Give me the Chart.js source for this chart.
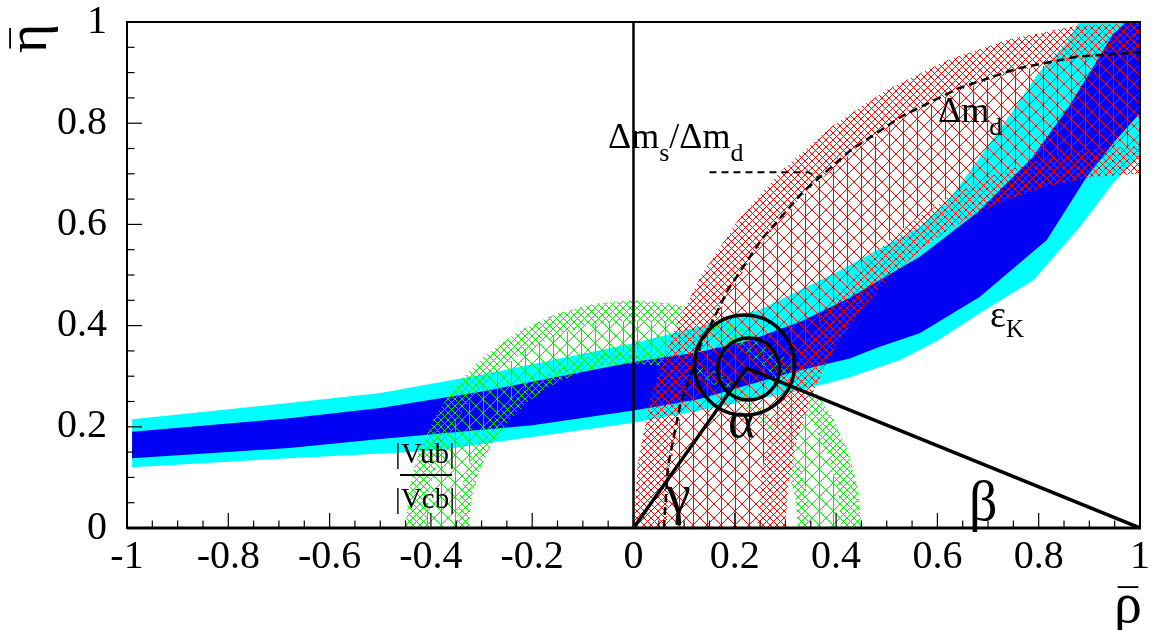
<!DOCTYPE html>
<html><head><meta charset="utf-8">
<script src="https://cdn.jsdelivr.net/npm/chart.js@4.4.1/dist/chart.umd.min.js"></script>
<style>html,body{margin:0;padding:0;background:#fff;overflow:hidden}canvas{display:block}</style>
</head><body>
<canvas id="c" width="1165" height="630"></canvas>
<script>
// ---- tick labels ----
const xTickLabels = ['-1','-0.8','-0.6','-0.4','-0.2','0','0.2','0.4','0.6','0.8','1'];
const yTickLabels = ['0','0.2','0.4','0.6','0.8','1'];

// ---- epsilon_K bands (rho, eta) ----
const cyanTop = [[-0.99,0.215],[-0.68,0.247],[-0.5,0.267],[-0.3,0.303],[0,0.365],[0.13,0.398],[0.25,0.432],[0.39,0.5],[0.486,0.552],[0.565,0.595],[0.62,0.645],[0.684,0.733],[0.75,0.826],[0.8,0.9],[0.855,0.958],[0.88,1.0],[1.0,1.0]];
const cyanBot = [[-0.99,0.12],[-0.68,0.138],[-0.4,0.152],[-0.2,0.18],[0,0.208],[0.13,0.232],[0.32,0.27],[0.427,0.298],[0.526,0.332],[0.6,0.37],[0.684,0.425],[0.79,0.49],[0.881,0.595],[0.947,0.682],[1.0,0.735]];
const blueTop = [[-0.99,0.19],[-0.68,0.217],[-0.5,0.237],[-0.3,0.27],[0,0.328],[0.13,0.348],[0.227,0.37],[0.33,0.408],[0.427,0.455],[0.486,0.49],[0.565,0.536],[0.684,0.628],[0.783,0.727],[0.855,0.826],[0.907,0.91],[0.947,0.977],[0.974,1.0],[1.0,1.0]];
const blueBot = [[-0.99,0.138],[-0.68,0.158],[-0.5,0.176],[-0.2,0.203],[0,0.232],[0.13,0.255],[0.32,0.31],[0.427,0.335],[0.486,0.358],[0.565,0.385],[0.684,0.457],[0.816,0.569],[0.895,0.694],[0.947,0.761],[1.0,0.82]];

// ---- |Vub/Vcb| region boundaries (around rho=0) ----
const vubOuter = [[-0.45,0],[-0.4432,0.0781],[-0.4229,0.1539],[-0.3897,0.225],[-0.3447,0.2893],[-0.2893,0.3447],[-0.225,0.3897],[-0.1539,0.4229],[-0.0781,0.4432],[0,0.45],[0.0781,0.4432],[0.1539,0.4229],[0.225,0.3897],[0.2893,0.3447],[0.3447,0.2893],[0.3897,0.225],[0.4229,0.1539],[0.4432,0.0781],[0.45,0]];
const vubMidOuter = [[-0.45,0],[-0.41,0],[-0.4038,0.0712],[-0.3853,0.1402],[-0.3551,0.205],[-0.3141,0.2635],[-0.2635,0.3141],[-0.205,0.3551],[-0.1402,0.3853],[-0.0712,0.4038],[0,0.41],[0.0712,0.4038],[0.1402,0.3853],[0.205,0.3551],[0.2635,0.3141],[0.3141,0.2635],[0.3551,0.205],[0.3853,0.1402],[0.4038,0.0712],[0.41,0],[0.45,0]];
const vubMidInner = [[-0.45,0],[-0.35,0],[-0.3447,0.0608],[-0.3289,0.1197],[-0.3031,0.175],[-0.2681,0.225],[-0.225,0.2681],[-0.175,0.3031],[-0.1197,0.3289],[-0.0608,0.3447],[0,0.35],[0.0608,0.3447],[0.1197,0.3289],[0.175,0.3031],[0.225,0.2681],[0.2681,0.225],[0.3031,0.175],[0.3289,0.1197],[0.3447,0.0608],[0.35,0],[0.45,0]];
const vubInner = [[-0.45,0],[-0.325,0],[-0.3201,0.0564],[-0.3054,0.1112],[-0.2815,0.1625],[-0.249,0.2089],[-0.2089,0.249],[-0.1625,0.2815],[-0.1112,0.3054],[-0.0564,0.3201],[0,0.325],[0.0564,0.3201],[0.1112,0.3054],[0.1625,0.2815],[0.2089,0.249],[0.249,0.2089],[0.2815,0.1625],[0.3054,0.1112],[0.3201,0.0564],[0.325,0],[0.45,0]];

// ---- Delta m_d region boundaries (around rho=1) ----
const dmdOuter = [[0,0],[0.0086,0.1305],[0.0341,0.2588],[0.0761,0.3827],[0.134,0.5],[0.2066,0.6088],[0.2929,0.7071],[0.3912,0.7934],[0.5,0.866],[0.6173,0.9239],[0.7412,0.9659],[0.8695,0.9914],[1,1]];
const dmdMidOuter = [[0,0],[0.065,0],[0.073,0.122],[0.0969,0.242],[0.1362,0.3578],[0.1903,0.4675],[0.2582,0.5692],[0.3389,0.6611],[0.4308,0.7418],[0.5325,0.8097],[0.6422,0.8638],[0.758,0.9031],[0.878,0.927],[1,0.935]];
const dmdMidInner = [[0,0],[0.245,0],[0.2515,0.0985],[0.2707,0.1954],[0.3025,0.2889],[0.3462,0.3775],[0.401,0.4596],[0.4661,0.5339],[0.5404,0.599],[0.6225,0.6538],[0.7111,0.6975],[0.8046,0.7293],[0.9015,0.7485],[1,0.755]];
const dmdInner = [[0,0],[0.3,0],[0.306,0.0914],[0.3239,0.1812],[0.3533,0.2679],[0.3938,0.35],[0.4446,0.4262],[0.505,0.495],[0.5738,0.5554],[0.65,0.6062],[0.7321,0.6467],[0.8188,0.6761],[0.9086,0.694],[1,0.7]];

// ---- Delta m_s / Delta m_d limit (dashed) and its label pointer ----
const dmsLimit = [[0.06,0],[0.0681,0.1227],[0.0921,0.2433],[0.1315,0.3597],[0.186,0.47],[0.2542,0.5723],[0.3353,0.6647],[0.4277,0.7458],[0.53,0.814],[0.6403,0.8685],[0.7567,0.9079],[0.8773,0.9319],[1,0.94]];
const dmsPointer = [[0.15,0.703],[0.345,0.703],[0.365,0.693]];

// ---- axis line, triangle, fit result ----
const rhoZeroLine = [[0,0],[0,1]];
const triangle = [[0,0],[0.223,0.316],[1,0]];
const fitOuterCentre = [[0.219,0.322]];
const fitInnerCentre = [[0.227,0.314]];

const pts = a => a.map(p => ({x: p[0], y: p[1]}));

function hatch(color, s, vertical) {
  const c = document.createElement('canvas'); c.width = s; c.height = s;
  const g = c.getContext('2d'); g.fillStyle = color;
  for (let i = 0; i < s; i++) { g.fillRect(i, i, 1, 1); g.fillRect(s - 1 - i, i, 1, 1); }
  if (vertical) g.fillRect(Math.floor(s / 2), 0, 1, s);
  return g.createPattern(c, 'repeat');
}
const RED = '#ff0000', GREEN = '#00ee00';
const redFine = hatch(RED, 7, false), redCoarse = hatch(RED, 14, true);
const greenFine = hatch(GREEN, 7, false), greenCoarse = hatch(GREEN, 14, true);

const NONE = 'rgba(0,0,0,0)';
function bound(data, order, fill, bg) {
  return {type: 'line', data: pts(data), order, fill: fill === undefined ? false : fill,
    backgroundColor: bg || NONE, borderColor: NONE, borderWidth: 1, pointRadius: 0, pointHoverRadius: 0, tension: 0};
}
function stroke(data, order, width, dash) {
  return {type: 'line', data: pts(data), order, fill: false, borderColor: '#000', borderWidth: width,
    borderDash: dash || [], pointRadius: 0, pointHoverRadius: 0, tension: 0, borderCapStyle: 'butt'};
}

const datasets = [
  bound(cyanTop, 100, 1, '#00ffff'),        // 0
  bound(cyanBot, 100),                      // 1
  bound(blueTop, 90, 3, '#0000f5'),         // 2
  bound(blueBot, 90),                       // 3
  bound(vubOuter, 80, 5, greenFine),        // 4
  bound(vubMidOuter, 79, 6, greenCoarse),   // 5
  bound(vubMidInner, 78, 7, greenFine),     // 6
  bound(vubInner, 77),                      // 7
  bound(dmdOuter, 70, 9, redFine),          // 8
  bound(dmdMidOuter, 69, 10, redCoarse),    // 9
  bound(dmdMidInner, 68, 11, redFine),      // 10
  bound(dmdInner, 67),                      // 11
  stroke(dmsLimit, 20, 2.5, [8, 5]),        // 12
  stroke(dmsPointer, 20, 2, [7, 5]),        // 13
  stroke(rhoZeroLine, 15, 2.5),             // 14
  stroke(triangle, 10, 3.5),                // 15
  {type: 'scatter', data: pts(fitOuterCentre), order: 5, pointRadius: 50, pointHoverRadius: 50,
    pointBorderWidth: 3.5, pointBorderColor: '#000', pointBackgroundColor: NONE},
  {type: 'scatter', data: pts(fitInnerCentre), order: 5, pointRadius: 31, pointHoverRadius: 31,
    pointBorderWidth: 3.5, pointBorderColor: '#000', pointBackgroundColor: NONE}
];

const SERIF = "'Liberation Serif', 'Times New Roman', serif";

const decor = {
  id: 'decor',
  afterDatasetsDraw(chart) {
    const {ctx, chartArea: a, scales: {x, y}} = chart;
    ctx.save();
    ctx.strokeStyle = '#000'; ctx.lineWidth = 1.2;
    x.ticks.forEach(t => {
      const px = x.getPixelForValue(t.value), len = t.label !== '' ? 15 : 7.5;
      ctx.beginPath(); ctx.moveTo(px, a.bottom); ctx.lineTo(px, a.bottom - len); ctx.stroke();
    });
    y.ticks.forEach(t => {
      const py = y.getPixelForValue(t.value), len = t.label !== '' ? 15 : 7.5;
      ctx.beginPath(); ctx.moveTo(a.left, py); ctx.lineTo(a.left + len, py); ctx.stroke();
    });
    ctx.lineWidth = 2;
    ctx.strokeRect(a.left, a.top, a.right - a.left, a.bottom - a.top);
    ctx.lineWidth = 3;
    ctx.beginPath(); ctx.moveTo(a.left, a.bottom); ctx.lineTo(a.right + 1, a.bottom); ctx.stroke();

    ctx.fillStyle = '#000';
    ctx.textBaseline = 'alphabetic'; ctx.textAlign = 'left';
    const run = (parts, x0, base) => {
      let cx = x0;
      parts.forEach(([t, size, dy]) => {
        ctx.font = size + 'px ' + SERIF;
        ctx.fillText(t, cx, base + dy);
        cx += ctx.measureText(t).width;
      });
    };
    run([['Δm', 36, 0], ['s', 26, 13], ['/', 36, 0], ['Δm', 36, 0], ['d', 26, 13]], 608, 148);
    run([['Δm', 36, 0], ['d', 26, 13]], 938, 122);
    run([['ε', 38, 0], ['K', 25, 10]], 990, 327);
    run([['α', 52, 0]], 728, 437);
    run([['γ', 56, 0]], 666, 513);
    run([['β', 56, 0]], 969, 520);
    ctx.textAlign = 'center';
    ctx.font = '29px ' + SERIF;
    ctx.fillText('|Vub|', 425, 463);
    ctx.fillText('|Vcb|', 425, 508);
    ctx.fillRect(400, 474, 52, 2);
    // axis titles: rho-bar and eta-bar
    ctx.textAlign = 'left';
    ctx.font = '56px ' + SERIF;
    const wr = ctx.measureText('ρ').width;
    ctx.fillText('ρ', 1114, 622);
    ctx.textAlign = 'center';
    ctx.font = '40px ' + SERIF;
    ctx.fillText('¯', 1114 + wr / 2, 617);
    ctx.save();
    ctx.translate(46, 53); ctx.rotate(-Math.PI / 2);
    ctx.textAlign = 'left';
    ctx.font = '56px ' + SERIF;
    const we = ctx.measureText('η').width;
    ctx.fillText('η', 0, 0);
    ctx.textAlign = 'center';
    ctx.font = '40px ' + SERIF;
    ctx.fillText('¯', we / 2, -6);
    ctx.restore();
    ctx.restore();
  }
};

const noPad = s => { s.paddingLeft = 0; s.paddingRight = 0; s.paddingTop = 0; s.paddingBottom = 0; };
const tickFont = {family: SERIF, size: 40};
new Chart(document.getElementById('c'), {
  type: 'line',
  data: {datasets},
  options: {
    responsive: false, animation: false, devicePixelRatio: 1,
    layout: {autoPadding: false, padding: {left: 0, right: 25, top: 22, bottom: 0}},
    plugins: {legend: {display: false}, tooltip: {enabled: false}},
    events: [],
    scales: {
      x: {type: 'linear', min: -1, max: 1,
        ticks: {stepSize: 0.05, autoSkip: false, maxRotation: 0, minRotation: 0, color: '#000', font: tickFont, padding: 5,
          callback: v => { const k = (v + 1) / 0.2, r = Math.round(k); return Math.abs(k - r) < 1e-6 ? xTickLabels[r] : ''; }},
        grid: {display: false, drawTicks: false, tickLength: 0}, border: {display: false},
        afterFit: s => { s.height = 102; noPad(s); }},
      y: {type: 'linear', min: 0, max: 1,
        ticks: {stepSize: 0.05, autoSkip: false, color: '#000', font: tickFont, padding: 20,
          callback: v => { const k = v / 0.2, r = Math.round(k); return Math.abs(k - r) < 1e-6 ? yTickLabels[r] : ''; }},
        grid: {display: false, drawTicks: false, tickLength: 0}, border: {display: false},
        afterFit: s => { s.width = 127; noPad(s); }}
    }
  },
  plugins: [decor]
});
</script>
</body></html>
